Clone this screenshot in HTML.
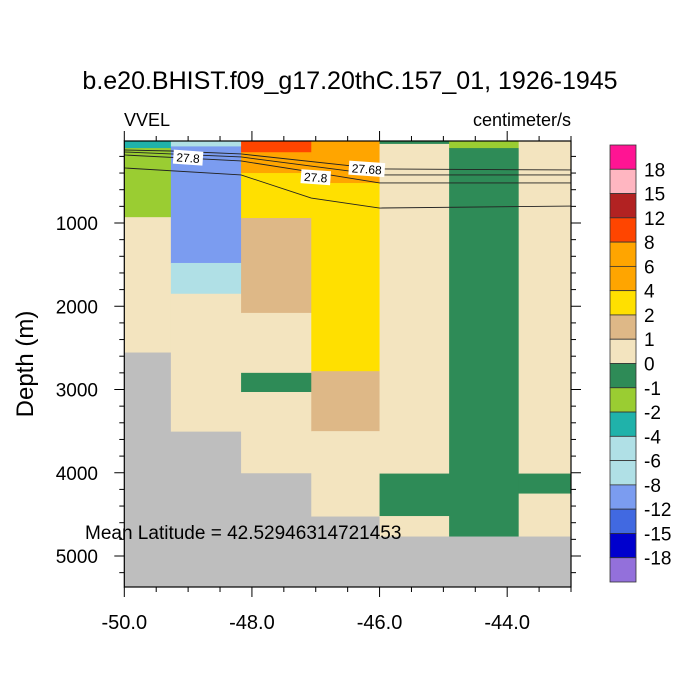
<!DOCTYPE html>
<html><head><meta charset="utf-8"><style>
body{margin:0;background:#fff;}
svg{display:block;font-family:"Liberation Sans",sans-serif;}
</style></head><body>
<svg id="chart" width="700" height="700" viewBox="0 0 700 700">
<text x="350" y="89" font-size="25" text-anchor="middle">b.e20.BHIST.f09_g17.20thC.157_01, 1926-1945</text>
<text x="124" y="126" font-size="18">VVEL</text>
<text x="571" y="126" font-size="18" text-anchor="end">centimeter/s</text>
<text transform="translate(33,364) rotate(-90)" font-size="24" text-anchor="middle">Depth (m)</text>
<g id="plot"></g>
<g id="cbar"></g>
</svg>
<script>
const lonEdges=[-50,-49.27,-48.17,-47.07,-46.0,-44.91,-43.82,-43];
const col1=[[0,100,-3],[100,930,-1.5],[930,2550,0.5]];
const col2=[[0,80,-7],[80,1480,-10],[1480,1850,-7],[1850,3500,0.5]];
const col3=[[0,150,10],[150,400,7],[400,940,3],[940,2080,1.5],[2080,2800,0.5],[2800,3030,-0.5],[3030,4000,0.5]];
const col4=[[0,520,7],[520,2780,3],[2780,3500,1.5],[3500,4520,0.5]];
const col5=[[0,50,-0.5],[50,4010,0.5],[4010,4520,-0.5],[4520,4760,0.5]];
const col6=[[0,100,-1.5],[100,4760,-0.5]];
const col7=[[0,4010,0.5],[4010,4250,-0.5],[4250,4760,0.5]];
const columns=[col1,col2,col3,col4,col5,col6,col7];
const levels=[-18,-15,-12,-8,-6,-4,-2,-1,0,1,2,4,6,8,12,15,18];
const colors=["#9370DB","#0000CD","#4169E1","#7B9CF0","#B0E0E6","#B0E0E6","#20B2AA","#9ACD32","#2E8B57","#F3E4BF","#DEB887","#FFE000","#FFA500","#FFA500","#FF4500","#B22222","#FFB6C1","#FF1493"];
const contourLons=[[-50,-49.27,-48.17,-46,-43],[-50,-48.17,-46,-43],[-50,-48.17,-47.07,-46,-43],[-50,-48.17,-47.07,-46,-43]];
const contourDepths=[[123,135,171,351,363],[147,207,423,423],[183,255,387,519,519],[339,423,700,820,796]];
const contourLabels=[["27.8",-49.0,215],["27.68",-46.2,350],["27.8",-47.0,450]];
const xTicks=[-50,-48,-46,-44];
const yTicks=[1000,2000,3000,4000,5000];
const NS="http://www.w3.org/2000/svg";
const X0=124.3,X1=571,Y0=141,Y1=587;
const xs=v=>X0+(v+50)/7*(X1-X0);
const ys=d=>139.75+d*0.08325;
function mk(t,a,p){const e=document.createElementNS(NS,t);for(const k in a)e.setAttribute(k,a[k]);p.appendChild(e);return e;}
function col(v){let i=0;while(i<levels.length&&v>=levels[i])i++;return colors[i];}
const plot=document.getElementById('plot');
const land=mk('rect',{x:X0,y:Y0,width:X1-X0,height:Y1-Y0,fill:'#BEBEBE'},plot);


columns.forEach((c,ci)=>{c.forEach(cell=>{
 const top=Math.max(ys(cell[0]),Y0);
 const r=mk('rect',{x:xs(lonEdges[ci]),y:top,width:xs(lonEdges[ci+1])-xs(lonEdges[ci])+0.5,height:ys(cell[1])-top+0.5,fill:col(cell[2])},plot);
 
 
});});
contourLons.forEach((ls,i)=>{
 const pts=ls.map((l,j)=>xs(l)+','+ys(contourDepths[i][j])).join(' ');
 const p=mk('polyline',{points:pts,fill:'none',stroke:'#222',"stroke-width":0.9},plot);
 
 
});
contourLabels.forEach(l=>{
 const x=xs(l[1]),y=ys(l[2]);
 const w=l[0].length*6.4+4;
 const b=mk('rect',{x:x-w/2,y:y-7,width:w,height:14,fill:'#fff',transform:`rotate(4 ${x} ${y})`},plot);
 
 
 const t=mk('text',{x:x,y:y+4.5,"font-size":12,"text-anchor":"middle",transform:`rotate(4 ${x} ${y})`},plot);
 t.textContent=l[0];
 
 
});
const fr=mk('rect',{x:X0,y:Y0,width:X1-X0,height:Y1-Y0,fill:'none',stroke:'#000',"stroke-width":1.2},plot);


for(let v=-50;v<=-43.01+0.01;v+=0.5){const x=xs(v);const maj=xTicks.includes(v);const L=maj?10:5;
 mk('line',{x1:x,y1:Y1,x2:x,y2:Y1+L,stroke:'#000'},plot);mk('line',{x1:x,y1:Y0,x2:x,y2:Y0-L,stroke:'#000'},plot);}
for(let d=200;d<5372;d+=200){const y=ys(d);const maj=d%1000===0;const L=maj?10:5;
 mk('line',{x1:X0,y1:y,x2:X0-L,y2:y,stroke:'#000'},plot);mk('line',{x1:X1,y1:y,x2:X1+L,y2:y,stroke:'#000'},plot);}
xTicks.forEach(v=>{const t=mk('text',{x:xs(v),y:629,"font-size":20,"text-anchor":"middle"},plot);t.textContent=v.toFixed(1);
 
 });
yTicks.forEach(v=>{const t=mk('text',{x:98,y:ys(v)+7,"font-size":19,"text-anchor":"end"},plot);t.textContent=v;
 
 });
const ml=mk('text',{x:85,y:539,"font-size":19},plot);ml.textContent='Mean Latitude = 42.52946314721453';


const cb=document.getElementById('cbar');const CB0=145,CBH=(582-145)/18;
for(let i=0;i<18;i++){const r=mk('rect',{x:610,y:CB0+i*CBH,width:26,height:CBH,fill:colors[17-i],stroke:'#333',"stroke-width":0.8},cb);
 
 }
for(let i=0;i<17;i++){const t=mk('text',{x:644,y:CB0+(i+1)*CBH+7,"font-size":19},cb);t.textContent=levels[16-i];
 
 }
</script>
</body></html>
